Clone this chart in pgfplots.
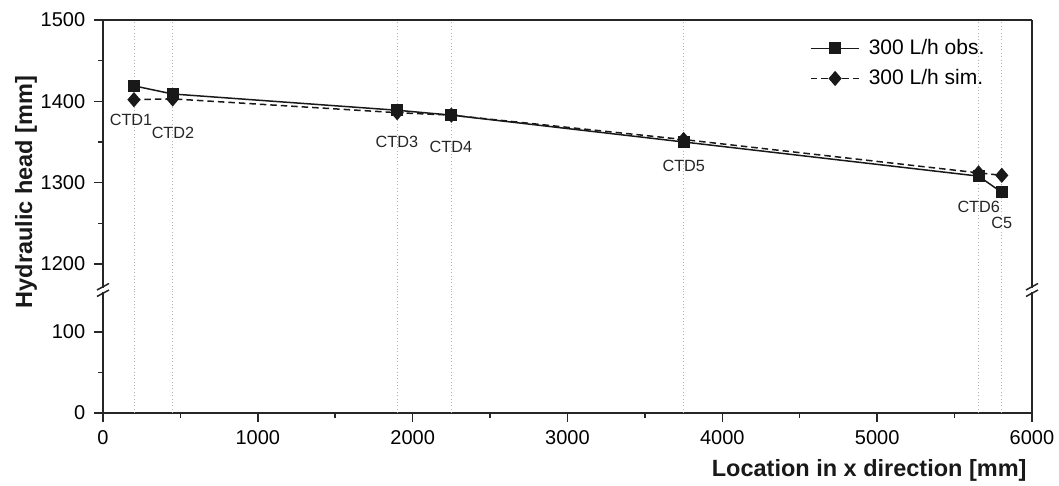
\documentclass[border=0pt]{standalone}
\usepackage{fontspec}
\setmainfont{Liberation Sans}
\usepackage{pgfplots}
\pgfplotsset{compat=1.18}
\begin{document}
\begin{tikzpicture}
\useasboundingbox (-41.2pt,-29.2pt) rectangle (382.4pt,165.2pt);
\pgfplotsset{
  brk/.style={
    width=371.6pt, scale only axis,
    xmin=0, xmax=6000,
    axis line style={line width=0.8pt, black!85},
    tick style={line width=0.6pt, black!85},
    tick align=outside,
    major tick length=3.6pt, minor tick length=2pt,
    tick label style={font=\fontsize{8}{9}\selectfont},
    /pgf/number format/assume math mode=true,
    /pgf/number format/1000 sep={},
    scaled ticks=false,
    extra x ticks={200,450,1900,2250,3750,5655,5805},
    extra x tick labels={},
    extra x tick style={grid=major, major tick length=0pt,
      major grid style={gray!60, line width=0.35pt, densely dotted}},
  },
  obs/.style={black!90, line width=0.6pt, mark=square*, mark size=2.1pt, mark options={solid}},
  sim/.style={black!90, line width=0.6pt, dash pattern=on 2.6pt off 1.6pt, mark=diamond*, mark size=2.6pt, mark options={solid, xscale=1.15}},
}
% lower part
\begin{axis}[brk, height=49.2pt, ymin=0, ymax=152,
  axis x line*=bottom, axis y line*=left,
  xtick={0,1000,...,6000}, minor xtick={500,1500,...,5500},
  ytick={0,100}, minor ytick={50}]
\end{axis}
% upper part
\begin{axis}[brk, at={(0,49.2pt)}, height=108pt, ymin=1168, ymax=1500,
  axis x line*=top, axis y line*=left, xtick=\empty,
  ytick={1200,1300,1400,1500}, minor ytick={1250,1350,1450},
  reverse legend, legend cell align=left,
  legend style={draw=none, fill=none, at={(0.758,0.96)}, anchor=north west,
    font=\fontsize{8.4}{10}\selectfont, row sep=0.5pt, column sep=1.5pt, inner sep=1pt},
  legend image code/.code={\draw[mark repeat=2,mark phase=2,#1] plot coordinates {(0cm,0cm) (0.34cm,0cm) (0.68cm,0cm)};}]
\addplot[sim] coordinates {(200,1402) (450,1403) (1900,1386) (2250,1383) (3750,1353) (5655,1312) (5805,1309)};
\addlegendentry{300 L/h sim.}
\addplot[obs] coordinates {(200,1419) (450,1409) (1900,1389) (2250,1383) (3750,1350) (5655,1308) (5805,1288)};
\addlegendentry{300 L/h obs.}
\begin{scope}[every node/.style={font=\fontsize{6.5}{7}\selectfont, text=black!85}]
\node at (axis cs:181,1377) {CTD1};
\node at (axis cs:452,1361) {CTD2};
\node at (axis cs:1898,1350) {CTD3};
\node at (axis cs:2247,1344) {CTD4};
\node at (axis cs:3751,1321) {CTD5};
\node at (axis cs:5656,1270) {CTD6};
\node at (axis cs:5805,1250) {C5};
\end{scope}
\end{axis}
% right border
\draw[line width=0.8pt, black!85] (371.6pt,0) -- (371.6pt,157.2pt);
% break marks
\foreach \xx in {0pt,371.6pt}{
  \fill[white] ([xshift=-0.8pt,yshift=-0.9pt]\xx,49.2pt) rectangle ([xshift=0.8pt,yshift=0.9pt]\xx,49.2pt);
  \draw[line width=0.6pt, black!85] ([xshift=-2.4pt,yshift=-2.6pt]\xx,49.2pt) -- ([xshift=2.4pt,yshift=0pt]\xx,49.2pt);
  \draw[line width=0.6pt, black!85] ([xshift=-2.4pt,yshift=0pt]\xx,49.2pt) -- ([xshift=2.4pt,yshift=2.6pt]\xx,49.2pt);
}
% axis titles
\node[rotate=90, anchor=north, inner sep=0pt, font=\fontsize{9.4}{11}\selectfont\bfseries, text=black!90] at (-35.4pt,88.4pt) {Hydraulic head [mm]};
\node[anchor=east, inner sep=0pt, font=\fontsize{9.4}{11}\selectfont\bfseries, text=black!90] at (369.6pt,-22.8pt) {Location in x direction [mm]};
\end{tikzpicture}
\end{document}
